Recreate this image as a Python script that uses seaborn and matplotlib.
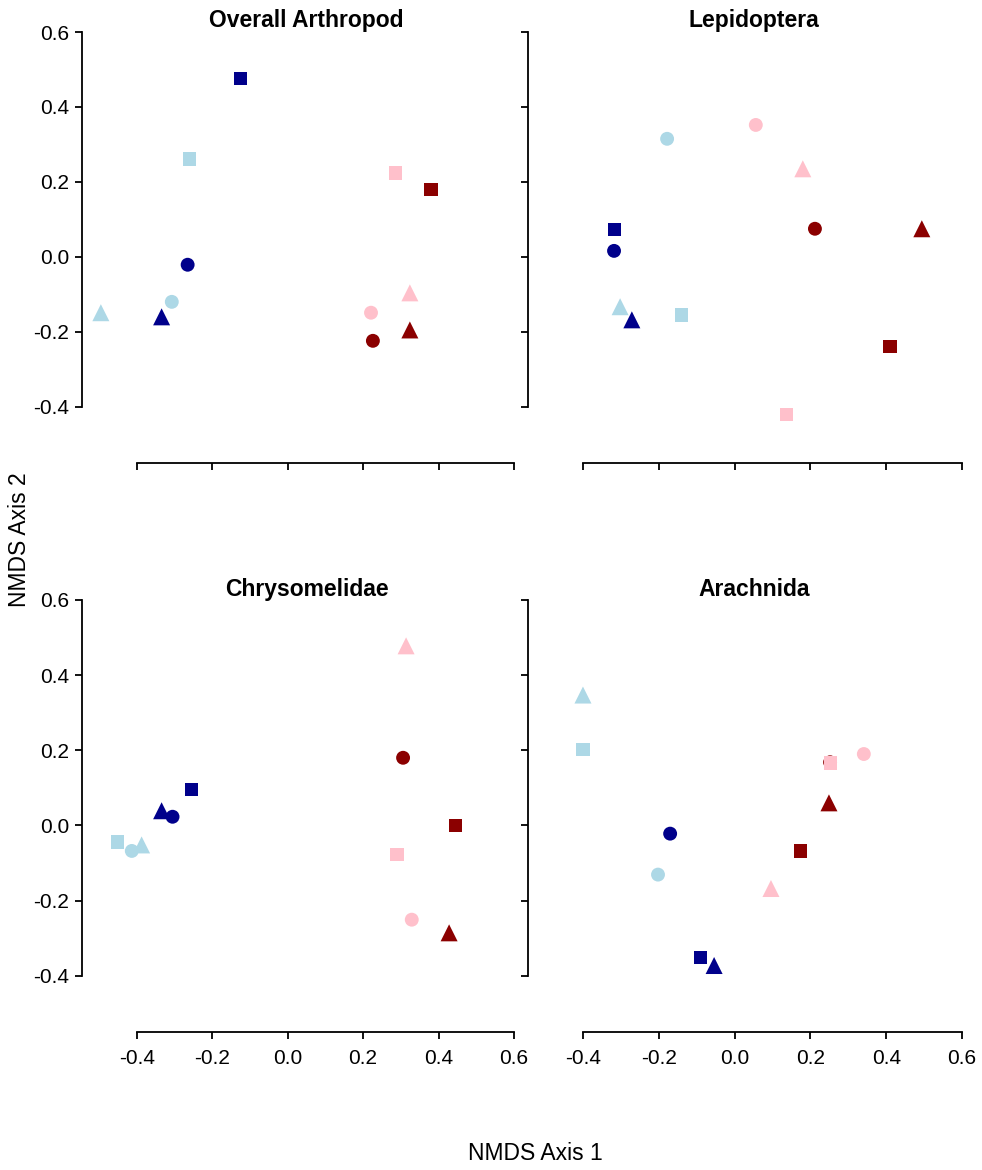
import matplotlib
matplotlib.use("Agg")
import matplotlib.pyplot as plt
import seaborn as sns
import pandas as pd

sns.set_style("white")
plt.rcParams['font.family'] = ['Liberation Sans', 'DejaVu Sans']
plt.rcParams['text.color'] = 'black'
plt.rcParams['xtick.color'] = 'black'
plt.rcParams['ytick.color'] = 'black'
plt.rcParams['axes.labelcolor'] = 'black'

panels = ["Overall Arthropod", "Lepidoptera", "Chrysomelidae", "Arachnida"]
group_order = ["G1", "G2", "G3", "G4"]
shape_order = ["S1", "S2", "S3"]

# each panel: groups, shapes, axis1, axis2
arth_group = ["G1", "G2", "G3", "G4", "G1", "G2", "G2", "G1", "G3", "G3", "G4", "G4"]
arth_shape = ["S2", "S2", "S2", "S2", "S1", "S1", "S3", "S3", "S3", "S1", "S1", "S3"]
arth_x = [-0.124, -0.259, 0.287, 0.380, -0.265, -0.307, -0.495, -0.334, 0.324, 0.221, 0.226, 0.324]
arth_y = [0.475, 0.261, 0.224, 0.179, -0.021, -0.120, -0.149, -0.160, -0.096, -0.149, -0.224, -0.195]

lepi_group = ["G2", "G3", "G3", "G1", "G1", "G4", "G4", "G2", "G1", "G2", "G4", "G3"]
lepi_shape = ["S1", "S1", "S3", "S2", "S1", "S1", "S3", "S3", "S3", "S2", "S2", "S2"]
lepi_x = [-0.178, 0.056, 0.180, -0.316, -0.318, 0.212, 0.494, -0.302, -0.271, -0.141, 0.410, 0.136]
lepi_y = [0.315, 0.352, 0.235, 0.072, 0.016, 0.075, 0.075, -0.133, -0.168, -0.155, -0.240, -0.421]

chry_group = ["G3", "G4", "G1", "G1", "G1", "G4", "G2", "G2", "G2", "G3", "G3", "G4"]
chry_shape = ["S3", "S1", "S2", "S3", "S1", "S2", "S2", "S3", "S1", "S2", "S1", "S3"]
chry_x = [0.314, 0.306, -0.254, -0.334, -0.305, 0.446, -0.450, -0.387, -0.413, 0.290, 0.329, 0.428]
chry_y = [0.478, 0.180, 0.095, 0.039, 0.023, -0.001, -0.044, -0.052, -0.068, -0.078, -0.251, -0.286]

arac_group = ["G2", "G2", "G3", "G3", "G4", "G4", "G1", "G4", "G2", "G3", "G1", "G1"]
arac_shape = ["S3", "S2", "S1", "S2", "S1", "S3", "S1", "S2", "S1", "S3", "S2", "S3"]
arac_x = [-0.400, -0.400, 0.341, 0.252, 0.252, 0.249, -0.170, 0.173, -0.202, 0.096, -0.089, -0.054]
arac_y = [0.347, 0.201, 0.190, 0.166, 0.168, 0.060, -0.022, -0.068, -0.131, -0.168, -0.352, -0.373]

ticks = [-0.4, -0.2, 0.0, 0.2, 0.4, 0.6]
tick_labels = ["-0.4", "-0.2", "0.0", "0.2", "0.4", "0.6"]

frames = []
for name, g, s, x, y in [
    (panels[0], arth_group, arth_shape, arth_x, arth_y),
    (panels[1], lepi_group, lepi_shape, lepi_x, lepi_y),
    (panels[2], chry_group, chry_shape, chry_x, chry_y),
    (panels[3], arac_group, arac_shape, arac_x, arac_y),
]:
    frames.append(pd.DataFrame({"panel": name, "group": g, "shape": s, "x": x, "y": y}))
df = pd.concat(frames, ignore_index=True)

palette = {"G1": "#00008B", "G2": "#ADD8E6", "G3": "#FFC0CB", "G4": "#8B0000"}
markers = {"S1": "o", "S2": "s", "S3": "^"}
sizes = {"S1": 100, "S2": 90, "S3": 150}
draw_order = ["S1", "S3", "S2"]

fig = plt.figure(figsize=(9.82, 11.70), dpi=100)
W, H = 982, 1170
boxes = [
    (82, 32, 514, 463),
    (528, 32, 962, 463),
    (82, 600, 514, 1032),
    (528, 600, 962, 1032),
]
for i, (name, (l, t, r, b)) in enumerate(zip(panels, boxes)):
    ax = fig.add_axes([l / W, 1 - b / H, (r - l) / W, (b - t) / H])
    sub = df[df.panel == name]
    for shp in draw_order:
        part = sub[sub["shape"] == shp]
        sns.scatterplot(data=part, x="x", y="y", hue="group", palette=palette,
                        marker=markers[shp], s=sizes[shp], linewidth=0,
                        legend=False, ax=ax, zorder=3)
    ax.set_xlim(-0.545, 0.6)
    ax.set_ylim(-0.55, 0.6)
    ax.set_xticks(ticks)
    ax.set_yticks(ticks)
    ax.spines["top"].set_visible(False)
    ax.spines["right"].set_visible(False)
    for sp in ["left", "bottom"]:
        ax.spines[sp].set_bounds(-0.4, 0.6)
        ax.spines[sp].set_linewidth(1.3)
        ax.spines[sp].set_color("black")
    ax.tick_params(axis="both", direction="out", length=5, width=1.3, color="black",
                   labelsize=15, labelcolor="black", bottom=True, left=True, pad=4)
    ax.tick_params(axis="x", pad=7)
    if i in (2, 3):
        ax.set_xticklabels(tick_labels)
    else:
        ax.set_xticklabels([])
    if i in (0, 2):
        ax.set_yticklabels(tick_labels)
    else:
        ax.set_yticklabels([])
    ax.set_xlabel("")
    ax.set_ylabel("")
    ax.set_title(name, fontsize=16.5, fontweight="bold", x=0.52, pad=3, color="black")
    ax.set_facecolor("white")

fig.text(535 / W, 1 - 1153 / H, "NMDS Axis 1", ha="center", va="center", fontsize=16.5)
fig.text(20 / W, 1 - 540 / H, "NMDS Axis 2", ha="center", va="center", fontsize=16.5, rotation=90)

fig.savefig("out.png", dpi=100, facecolor="white")
